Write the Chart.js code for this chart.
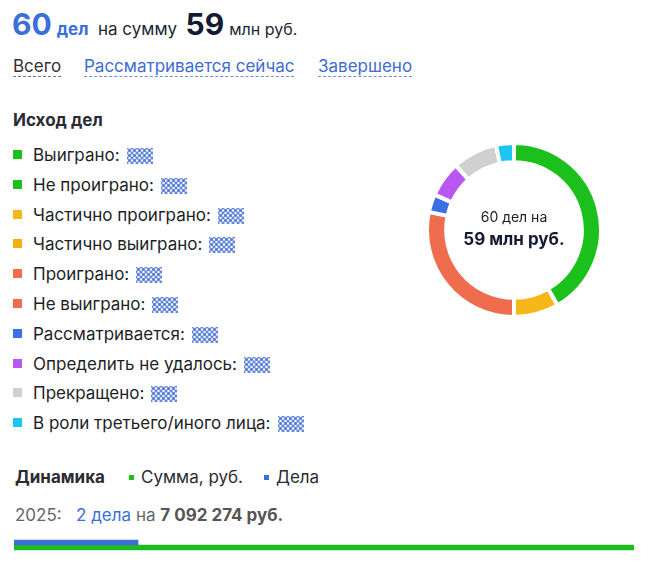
<!DOCTYPE html>
<html lang="ru">
<head>
<meta charset="utf-8">
<script src="https://cdn.jsdelivr.net/npm/chart.js@4/dist/chart.umd.min.js"></script>
<style>
  body { margin:0; width:656px; height:565px; background:#fff; font-family:Inter, "Noto Sans", sans-serif; color:#23262f; position:relative; overflow:hidden; }
  .abs { position:absolute; white-space:nowrap; }
  .big { font-size:30px; font-weight:700; }
  .blue { color:#3b6fd9; }
  .tab { font-size:17px; border-bottom:1px dashed #777; padding-bottom:0px; }
  .tab.link { color:#3d6cd4; border-bottom-color:#6f8fd8; }
  .leg { font-size:17px; color:#1d1f26; }
  .sq { display:inline-block; width:9px; height:9px; margin-right:11px; vertical-align:2px; }
  .blur { display:inline-block; width:26px; height:16px; vertical-align:-3px; margin-left:7px;
    background-image:radial-gradient(circle, #4b74d2 1.3px, transparent 1.8px), radial-gradient(circle, #4b74d2 1.3px, transparent 1.8px);
    background-size:5px 5px; background-position:0 0, 2.5px 2.5px; opacity:.9; }
</style>
</head>
<body>
<div class="abs" style="left:12px;top:6px;">
  <span class="big blue">60</span><span class="blue" style="font-size:17px;font-weight:700;margin-left:5px;">дел</span>
  <span style="font-size:17px;margin-left:5px;">на сумму</span>
  <span class="big" style="margin-left:4px;color:#151a33;">59</span><span style="font-size:16px;margin-left:5px;">млн руб.</span>
</div>
<div class="abs tab" style="left:13px;top:56px;color:#333;">Всего</div>
<div class="abs tab link" style="left:84px;top:56px;">Рассматривается сейчас</div>
<div class="abs tab link" style="left:318px;top:56px;">Завершено</div>

<div class="abs" style="left:13px;top:110px;font-size:17px;font-weight:700;color:#2a2c33;">Исход дел</div>
<div id="legend"></div>

<div class="abs" style="left:425px;top:141px;width:178px;height:178px;"><canvas id="donut"></canvas></div>
<div class="abs" style="left:414px;top:208px;width:200px;text-align:center;font-size:14px;color:#222;">60 дел на</div>
<div class="abs" style="left:414px;top:229px;width:200px;text-align:center;font-size:17px;font-weight:700;color:#151a33;">59 млн руб.</div>

<div class="abs" style="left:15px;top:467px;font-size:17px;font-weight:700;color:#2a2c33;">Динамика</div>
<div class="abs" style="left:129px;top:467px;font-size:17px;color:#2a2c33;"><span class="sq" style="width:5px;height:5px;background:#1dbf1d;margin-right:7px;vertical-align:3px;"></span>Сумма, руб.</div>
<div class="abs" style="left:264px;top:467px;font-size:17px;color:#2a2c33;"><span class="sq" style="width:5px;height:5px;background:#3d6fd9;margin-right:7px;vertical-align:3px;"></span>Дела</div>
<div class="abs" style="left:15px;top:505px;font-size:17px;color:#666;">2025:&nbsp;&nbsp; <span class="blue">2 дела</span> на <b style="color:#555;">7 092 274 руб.</b></div>

<div class="abs" style="left:14px;top:535px;width:620px;height:20px;"><canvas id="bars"></canvas></div>

<script>
// исход дел
var outcomeLabels = ["Выиграно", "Не проиграно", "Частично проиграно", "Частично выиграно", "Проиграно",
  "Не выиграно", "Рассматривается", "Определить не удалось", "Прекращено", "В роли третьего/иного лица"];
var outcomeCases = [25, 0, 5, 0, 17, 0, 2, 4, 5, 2];
var outcomeColors = ["#1cc01c", "#1cc01c", "#f7b718", "#f2b20c", "#ef6d4e", "#ef6d4e", "#3a6fe6", "#b857f2", "#d0d0d0", "#1cc6f0"];

// динамика
var years = ["2025"];
var sumRub = [7092274];
var dealsCount = [2];

var leg = document.getElementById('legend');
outcomeLabels.forEach(function(name, i){
  var d = document.createElement('div');
  d.className = 'abs leg';
  d.style.left = '13px';
  d.style.top = (145 + i * 29.8) + 'px';
  d.innerHTML = '<span class="sq" style="background:' + outcomeColors[i] + '"></span>' + name + ':<span class="blur"></span>';
  leg.appendChild(d);
});

new Chart(document.getElementById('donut'), {
  type: 'doughnut',
  data: {
    labels: outcomeLabels,
    datasets: [{
      data: outcomeCases,
      backgroundColor: outcomeColors,
      borderColor: '#fff',
      borderWidth: 4
    }]
  },
  options: {
    responsive: true,
    maintainAspectRatio: false,
    animation: false,
    cutout: '78%',
    plugins: { legend: { display: false }, tooltip: { enabled: false } }
  }
});

new Chart(document.getElementById('bars'), {
  type: 'bar',
  data: {
    labels: years,
    datasets: [
      { label: 'Дела', data: dealsCount, backgroundColor: '#3d6fd9', xAxisID: 'xd', barThickness: 5 },
      { label: 'Сумма, руб.', data: sumRub, backgroundColor: '#1cbd1c', xAxisID: 'xs', barThickness: 5 }
    ]
  },
  options: {
    indexAxis: 'y',
    responsive: true,
    maintainAspectRatio: false,
    animation: false,
    categoryPercentage: 0.75,
    layout: { padding: 0 },
    scales: {
      y: { display: false },
      xd: { display: false, min: 0, max: 10 },
      xs: { display: false, min: 0, max: 7092274 }
    },
    plugins: { legend: { display: false }, tooltip: { enabled: false } }
  }
});
</script>
</body>
</html>
